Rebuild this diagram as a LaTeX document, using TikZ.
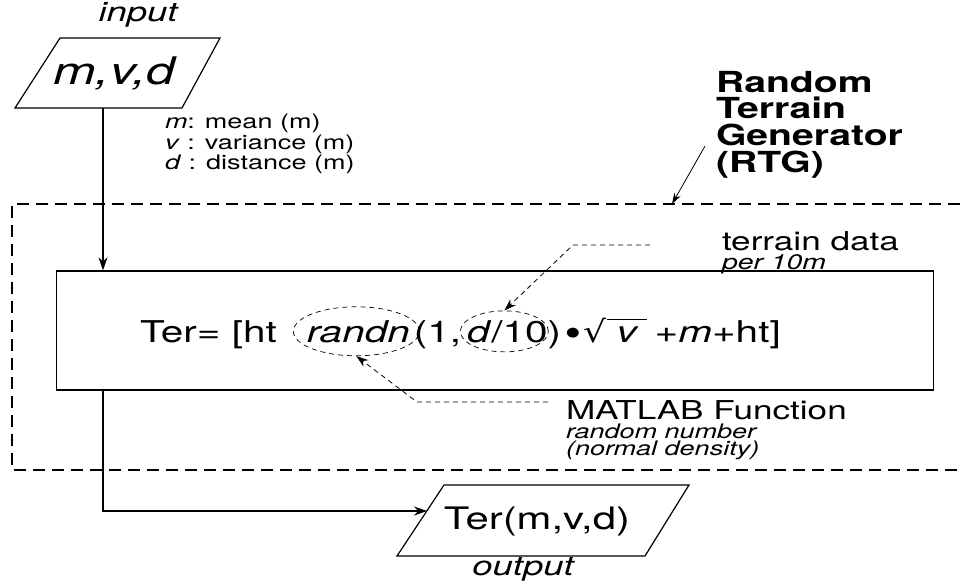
\documentclass[tikz,border=0pt]{standalone}
\usepackage{fontspec}
\setmainfont{TeX Gyre Heros}[FakeStretch=1.35]
\newfontfamily\djv{DejaVu Sans}[FakeStretch=1.2]
\usetikzlibrary{calc,shapes.geometric,arrows.meta}
\newcommand{\fs}[1]{\fontsize{#1}{#1}\selectfont}
\newcommand{\fsl}[2]{\fontsize{#1}{#2}\selectfont}
\begin{document}
\begin{tikzpicture}[x=1pt,y=-1pt,
  txt/.style={inner sep=0pt, outer sep=0pt},
  para/.style={draw, line width=1.2pt, line join=miter},
  mainbox/.style={draw, line width=1.3pt, inner sep=0pt},
  frame/.style={line width=1.8pt, dash pattern=on 12pt off 7pt},
  conn/.style={line width=1.1pt, -{Stealth[length=13pt,width=9pt]}},
  thinarrow/.style={line width=0.8pt, -{Stealth[length=11pt,width=7pt]}},
  dasharrow/.style={line width=0.8pt, dash pattern=on 5pt off 4pt, -{Stealth[length=12pt,width=8pt]}},
  oval/.style={draw, ellipse, line width=0.7pt, dash pattern=on 5pt off 4pt, inner sep=0pt}
]
\useasboundingbox (0,0) rectangle (960,587);

% input
\node[txt, font=\fs{27}\itshape] (inlbl) at (138,15) {input};
\coordinate (in1) at (60,38);
\coordinate (in2) at (220,38);
\coordinate (in3) at (182,108);
\coordinate (in4) at (15,108);
\draw[para] (in1) -- (in2) -- (in3) -- (in4) -- cycle;
\node[txt, font=\fs{38}\itshape] (mvd) at (114,73) {m,v,d};

% legend
\node[txt, anchor=north west, align=left, font=\fsl{20}{20.5}] (legend) at (165,114)
  {\textit{m}: mean (m)\\ \textit{v} : variance (m)\\ \textit{d} : distance (m)};

% RTG label
\node[txt, anchor=north west, align=left, font=\fsl{29}{26.7}\bfseries] (rtg) at (716,71)
  {Random\\Terrain\\Generator\\(RTG)};

% dashed frame
\coordinate (fr1) at (960,204);
\coordinate (fr2) at (12,204);
\coordinate (fr3) at (12,470);
\coordinate (fr4) at (960,470);
\draw[frame] (fr1) -- (fr2) -- (fr3) -- (fr4);

% main box
\node[mainbox, minimum width=877pt, minimum height=119pt] (box) at (495,330.5) {};

% formula
\node[txt, anchor=base west, font=\fs{30}] (f1) at (140,342) {Ter= [ht};
\node[txt, anchor=base west, font=\fs{30}\itshape] (rn) at ($(f1.base east)+(30,0)$) {randn};
\node[txt, anchor=base west, font=\fs{30}] (f2) at ($(rn.base east)+(4,0)$) {(1,};
\node[txt, anchor=base west, font=\fs{30}] (f3) at ($(f2.base east)+(6,0)$) {\textit{d}/10};
\node[txt, anchor=base west, font=\fs{30}] (f4) at ($(f3.base east)+(0,0)$)
  {)\hspace{5pt}{\djv\fs{13}\raisebox{6pt}{●}}\hspace{4pt}{\djv √}\rlap{\raisebox{22.5pt}{\rule{40pt}{1pt}}}\hbox to 40pt{\hss\itshape v\hss}\hspace{8pt}+\textit{m}+ht]};
\node[oval, minimum width=126pt, minimum height=49pt] (e1) at ($(rn.center)+(-2,0)$) {};
\node[oval, minimum width=88pt, minimum height=41pt] (e2) at ($(f3.center)+(-3,0)$) {};

% annotations
\node[txt, anchor=west, font=\fs{26}] (td) at (722,241) {terrain data};
\node[txt, anchor=west, font=\fs{21}\itshape] (per) at (722,264) {per 10m};
\node[txt, anchor=west, font=\fs{26}] (ml) at (566,410) {MATLAB Function};
\node[txt, anchor=west, font=\fs{20}\itshape] (rnum) at (566,431) {random number};
\node[txt, anchor=west, font=\fs{20}\itshape] (nd) at (566,450) {(normal density)};

% output
\coordinate (out1) at (444,485);
\coordinate (out2) at (689,485);
\coordinate (out3) at (645,556);
\coordinate (out4) at (397,556);
\draw[para] (out1) -- (out2) -- (out3) -- (out4) -- cycle;
\coordinate (outIn) at (427,511);
\node[txt, font=\fs{31}] (terout) at (537,521) {Ter(m,v,d)};
\node[txt, font=\fs{27}\itshape] (outlbl) at (523,569) {output};

% connectors
\coordinate (vx) at (103,108);
\draw[conn] (vx) -- (vx |- box.north);
\draw[conn] (vx |- box.south) |- (outIn);

\coordinate (rtgtail) at (705,146);
\coordinate (rtgtip) at (672,204);
\draw[thinarrow] (rtgtail) -- (rtgtip);

\coordinate (tdA) at (650,245);
\coordinate (tdB) at (573,245);
\draw[dasharrow] (tdA) -- (tdB) -- (e2.north);

\coordinate (mlA) at (548,402);
\coordinate (mlB) at (417,402);
\draw[dasharrow] (mlA) -- (mlB) -- (e1.south);
\end{tikzpicture}
\end{document}
